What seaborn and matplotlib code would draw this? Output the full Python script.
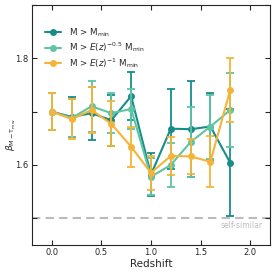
import numpy as np
import pandas as pd
import seaborn as sns
import matplotlib
matplotlib.use("Agg")
import matplotlib.pyplot as plt
from matplotlib.ticker import MultipleLocator

# redshift bins
z = [0.0, 0.2, 0.4, 0.6, 0.8, 1.0, 1.2, 1.4, 1.6, 1.8]

# M > M_min
beta_1 = [1.700, 1.690, 1.697, 1.684, 1.729, 1.582, 1.668, 1.667, 1.672, 1.604]
err_1 = [0.035, 0.038, 0.050, 0.048, 0.045, 0.040, 0.075, 0.090, 0.062, 0.100]
# M > E(z)^-0.5 M_min
beta_2 = [1.700, 1.688, 1.710, 1.697, 1.705, 1.578, 1.600, 1.643, 1.672, 1.703]
err_2 = [0.035, 0.035, 0.048, 0.038, 0.038, 0.035, 0.042, 0.065, 0.060, 0.070]
# M > E(z)^-1 M_min
beta_3 = [1.700, 1.686, 1.703, 1.677, 1.634, 1.585, 1.617, 1.616, 1.606, 1.741]
err_3 = [0.035, 0.037, 0.043, 0.042, 0.037, 0.032, 0.035, 0.033, 0.048, 0.060]

labels = [r"M > M$_{\rm min}$",
          r"M > $E(z)^{-0.5}$ M$_{\rm min}$",
          r"M > $E(z)^{-1}$ M$_{\rm min}$"]
colors = ["#178d8a", "#5fc4a4", "#f4b43a"]

sns.set_style("ticks")
plt.rcParams["font.family"] = ["DejaVu Sans"]
fig, ax = plt.subplots(figsize=(2.74, 2.74), dpi=100)
fig.subplots_adjust(left=0.117, right=0.985, bottom=0.106, top=0.982)

ax.axhline(1.5, color="#bbbbbb", ls="--", lw=1.5, dashes=(4, 2.5), zorder=0)
ax.text(2.13, 1.486, "self-similar", color="#bbbbbb", fontsize=5.5,
        ha="right", va="center")

for b, e, lab, c in zip([beta_1, beta_2, beta_3], [err_1, err_2, err_3], labels, colors):
    df = pd.DataFrame({"z": z, "beta": b})
    ax.errorbar(z, b, yerr=e, fmt="none", ecolor=c, elinewidth=1.3,
                capsize=2.8, capthick=1.3)
    sns.lineplot(data=df, x="z", y="beta", color=c, marker="o", markersize=5,
                 markeredgewidth=0, lw=1.5, label=lab, ax=ax)

ax.set_xlim(-0.2, 2.2)
ax.set_ylim(1.45, 1.9)
ax.xaxis.set_major_locator(MultipleLocator(0.5))
ax.yaxis.set_major_locator(MultipleLocator(0.2))
ax.yaxis.set_minor_locator(MultipleLocator(0.1))
ax.tick_params(which="both", direction="in", top=True, right=True,
               labelsize=6, length=3.5, width=0.8, pad=2.5)
ax.set_xlabel("Redshift", fontsize=7.5, labelpad=1)
ax.set_ylabel(r"$\beta_{\rm M-T_{mw}}$", fontsize=6.5)
ax.yaxis.set_label_coords(-0.06, 0.46)
for s in ax.spines.values():
    s.set_linewidth(0.8)

ax.legend(loc="upper left", bbox_to_anchor=(0.02, 0.945), frameon=False,
          fontsize=6.3, handlelength=1.9, handletextpad=0.9, labelspacing=0.2)

fig.savefig("out.png", dpi=100)
